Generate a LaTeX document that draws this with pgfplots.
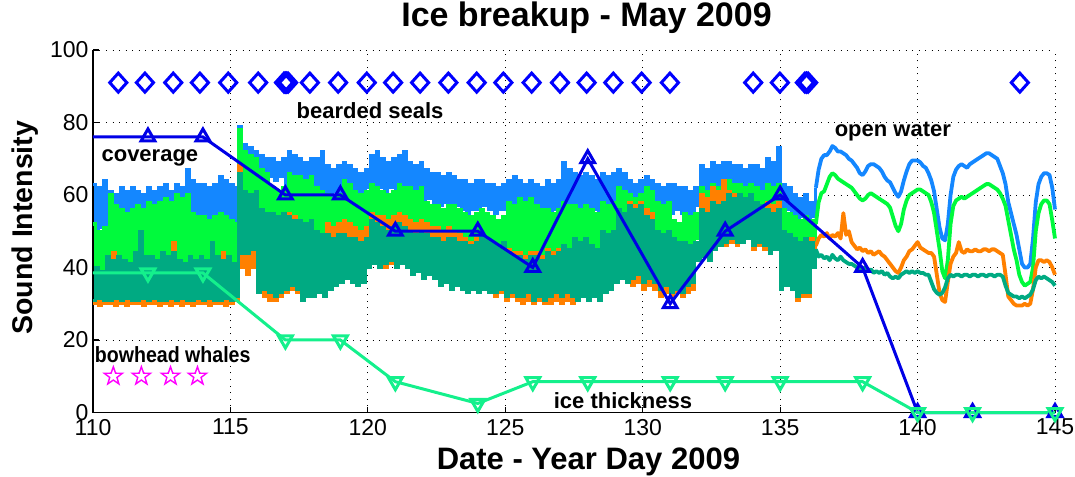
\documentclass[border=0pt]{standalone}
\usepackage{fontspec}
\setmainfont{Liberation Sans}
\usepackage{pgfplots}
\usepackage{pgfplotstable}
\pgfplotsset{compat=1.18}
\definecolor{cB}{RGB}{20,135,255}
\definecolor{cG}{RGB}{0,250,60}
\definecolor{cO}{RGB}{255,128,0}
\definecolor{cT}{RGB}{0,170,130}
\definecolor{cCov}{RGB}{0,0,230}
\definecolor{cThk}{RGB}{20,240,140}
\definecolor{cSeal}{RGB}{0,0,255}
\definecolor{cWhale}{RGB}{255,0,255}

\pgfdeclareplotmark{ostar}{%
 \pgfpathmoveto{\pgfpointpolar{90}{\pgfplotmarksize}}%
 \pgfpathlineto{\pgfpointpolar{126}{0.4\pgfplotmarksize}}%
 \pgfpathlineto{\pgfpointpolar{162}{\pgfplotmarksize}}%
 \pgfpathlineto{\pgfpointpolar{198}{0.4\pgfplotmarksize}}%
 \pgfpathlineto{\pgfpointpolar{234}{\pgfplotmarksize}}%
 \pgfpathlineto{\pgfpointpolar{270}{0.4\pgfplotmarksize}}%
 \pgfpathlineto{\pgfpointpolar{306}{\pgfplotmarksize}}%
 \pgfpathlineto{\pgfpointpolar{342}{0.4\pgfplotmarksize}}%
 \pgfpathlineto{\pgfpointpolar{18}{\pgfplotmarksize}}%
 \pgfpathlineto{\pgfpointpolar{54}{0.4\pgfplotmarksize}}%
 \pgfpathclose\pgfusepathqstroke}
\pgfdeclareplotmark{wdia}{%
 \pgfpathmoveto{\pgfqpoint{0pt}{\pgfplotmarksize}}%
 \pgfpathlineto{\pgfqpoint{0.9\pgfplotmarksize}{0pt}}%
 \pgfpathlineto{\pgfqpoint{0pt}{-\pgfplotmarksize}}%
 \pgfpathlineto{\pgfqpoint{-0.9\pgfplotmarksize}{0pt}}%
 \pgfpathclose\pgfusepathqstroke}

\pgfplotstableread{
x b g o t
110.0 63 52 30 31
110.1 50 38 37 40
110.2 62 50 29.5 31.5
110.3 51 39 36 39
110.4 64 51 30 31
110.5 49 38 38 43
110.6 61 60 30 31
110.7 48 37 44 42
110.8 60 57 29.5 31.5
110.9 52 38 37 43
111.0 62 56 30 31
111.1 52 38 38 42
111.2 61 55 29.5 31.5
111.3 53 39 40 41
111.4 62 56 30 31
111.5 52 37 37 44
111.6 61 57 30 31
111.7 53 38 46 50
111.8 60 56 29.5 31.5
111.9 52 37 38 43
112.0 62 58 30 31
112.1 53 38 39 43
112.2 61 57 30 31.5
112.3 54 39 38 42
112.4 62 58 29.5 31
112.5 52 38 40 44
112.6 63 59 30 31
112.7 53 39 41 43
112.8 61 58 29.5 31.5
112.9 52 38 47 44
113.0 63 60 30 31
113.1 53 38 38 42
113.2 62 59 29.5 31.5
113.3 54 39 39 41
113.4 67 60 30 31
113.5 53 37 42 43
113.6 64 55 29.5 31
113.7 52 38 38 42
113.8 63 54 30 31.5
113.9 54 37 37 43
114.0 63 54 30 31
114.1 52 37 39 42
114.2 62 53 29.5 31.5
114.3 53 38 40 47
114.4 63 54 30 31
114.5 53 37 38 43
114.6 65 55 30 31
114.7 54 38 44 42
114.8 64 54 29.5 31.5
114.9 53 37 39 43
115.0 63 53 30 31
115.1 53 38 38 41
115.2 62 52 31 32
115.3 79 78 68 66
115.4 63 46 40 44
115.5 74 72 58 61
115.6 66 50 38 44
115.7 73 71 57 60
115.8 67 51 40 45
115.9 72 70 56 61
116.0 65 45 33 33
116.1 71 67 55 56
116.2 64 46 32 34
116.3 70 66 54 55
116.4 65 45 31 33
116.5 70 62 52 55
116.6 64 42 31 32
116.7 69 61 51 54
116.8 65 43 32 33
116.9 70 62 52 55
117.0 62 45 33 34
117.1 72 66 55 54
117.2 63 46 34 35
117.3 71 65 54 53
117.4 62 45 33 34
117.5 70 65 52 53
117.6 60 44 31 31
117.7 69 64 51 52
117.8 61 45 32 32
117.9 70 65 52 53
118.0 60 45 32 32
118.1 70 62 50 50
118.2 61 46 33 33
118.3 72 61 49 49
118.4 60 45 32 32
118.5 68 60 52 49
118.6 60 44 35 34
118.7 67 59 51 48
118.8 61 45 36 35
118.9 68 60 52 49
119.0 60 46 38 36
119.1 69 64 53 49
119.2 61 47 39 37
119.3 68 63 52 48
119.4 60 46 38 36
119.5 67 61 51 48
119.6 59 45 37 35
119.7 66 60 50 47
119.8 60 46 38 36
119.9 67 61 51 48
120.0 62 47 41 40
120.1 71 63 55 53
120.2 63 48 42 41
120.3 72 62 54 52
120.4 62 47 41 40
120.5 70 61 54 51
120.6 61 46 40 41
120.7 69 60 53 50
120.8 62 47 41 42
120.9 70 61 54 51
121.0 60 47 40 40
121.1 71 63 55 52
121.2 61 48 41 41
121.3 72 62 54 51
121.4 60 47 40 40
121.5 69 62 53 50
121.6 60 46 38 38
121.7 68 61 52 49
121.8 61 47 39 39
121.9 69 62 53 50
122.0 58 44 37 37
122.1 67 58 52 49
122.2 59 45 38 38
122.3 66 57 51 48
122.4 58 44 37 37
122.5 66 57 51 48
122.6 57 43 35 35
122.7 65 56 50 47
122.8 58 44 36 36
122.9 66 57 51 48
123.0 56 43 34 34
123.1 65 57 50 48
123.2 57 44 35 35
123.3 64 56 49 47
123.4 56 43 34 34
123.5 64 55 48 47
123.6 55 42 33 33
123.7 63 54 47 46
123.8 56 43 34 34
123.9 64 55 48 47
124.0 56 43 33 33
124.1 64 56 48 49
124.2 57 44 34 34
124.3 63 55 47 48
124.4 56 43 33 33
124.5 63 54 46 47
124.6 55 42 32 33
124.7 62 53 45 46
124.8 56 43 33 34
124.9 63 54 46 47
125.0 56 42 31 32
125.1 64 58 45 44
125.2 57 43 32 33
125.3 65 57 44 43
125.4 56 42 31 32
125.5 64 59 44 43
125.6 55 41 30 32
125.7 63 58 43 42
125.8 56 42 31 33
125.9 64 59 44 43
126.0 54 40 30 31
126.1 63 57 44 43
126.2 55 41 31 32
126.3 62 56 43 42
126.4 54 40 30 31
126.5 64 56 45 44
126.6 55 40 30 32
126.7 63 55 44 43
126.8 56 41 31 33
126.9 64 56 45 44
127.0 56 41 30 32
127.1 69 58 46 46
127.2 57 42 31 33
127.3 67 57 45 45
127.4 56 41 30 32
127.5 66 57 46 48
127.6 55 42 31 31
127.7 65 56 45 47
127.8 56 43 32 32
127.9 66 57 46 48
128.0 55 42 31 31
128.1 65 56 46 46
128.2 56 43 32 32
128.3 64 55 45 45
128.4 55 42 31 31
128.5 66 58 50 50
128.6 56 44 33 33
128.7 65 57 49 49
128.8 57 45 34 34
128.9 66 58 50 50
129.0 57 46 36 36
129.1 67 62 56 56
129.2 58 47 37 37
129.3 66 61 55 55
129.4 57 46 36 36
129.5 64 60 58 57
129.6 56 45 35 37
129.7 63 59 57 56
129.8 57 46 36 38
129.9 64 60 58 57
130.0 56 45 34 36
130.1 65 62 56 54
130.2 57 46 35 37
130.3 64 61 55 53
130.4 56 45 34 36
130.5 63 58 50 50
130.6 55 44 32 34
130.7 62 57 49 49
130.8 56 45 33 35
130.9 63 58 50 50
131.0 55 42 32 33
131.1 63 53 48 48
131.2 56 43 33 34
131.3 62 52 47 47
131.4 55 42 32 33
131.5 62 55 46 47
131.6 54 43 33 35
131.7 61 54 45 46
131.8 55 44 34 36
131.9 62 55 46 47
132.0 57 48 42 42
132.1 68 62 60 56
132.2 58 49 43 43
132.3 67 61 59 55
132.4 57 48 42 42
132.5 69 63 62 58
132.6 58 50 45 45
132.7 68 62 61 57
132.8 59 51 46 46
132.9 69 63 64 58
133.0 60 52 46 47
133.1 69 64 61 60
133.2 61 53 47 48
133.3 68 63 60 59
133.4 60 52 46 47
133.5 68 63 60 60
133.6 60 52 47 47
133.7 67 62 59 59
133.8 61 53 48 48
133.9 68 63 60 60
134.0 59 50 45 46
134.1 68 62 58 58
134.2 60 51 46 47
134.3 67 61 57 57
134.4 59 50 45 46
134.5 70 63 58 56
134.6 60 50 44 44
134.7 69 62 57 55
134.8 61 51 45 45
134.9 73 63 58 56
135.0 55 45 34 34
135.1 63 56 50 50
135.2 56 46 35 35
135.3 62 55 49 49
135.4 55 45 34 34
135.5 60 54 48 48
135.6 53 43 31 32
135.7 59 53 47 47
135.8 54 44 32 33
135.9 60 54 48 48
136.0 52 42 32 33
136.1 58 53 48 47
136.2 54 45 40 40
136.3 62 52 46 45
136.4 67 58 48 43
136.5 70 60.5 49 43.5
136.6 71 61 48.5 42.5
136.7 71 63 49.5 43
136.8 72 65 48 42
136.9 73.5 66 49 43.5
137.0 73 65.5 48.5 42.5
137.1 72 64.5 49.5 42
137.2 72 64 48 43
137.3 71.5 63.5 55 42
137.4 71 63 49 41.5
137.5 70 62.5 50 41
137.6 69.5 62 47 41
137.7 68.5 61 46 40.5
137.8 67.5 60 45 40
137.9 66 59 45.5 39.5
138.0 65.5 58.5 44.5 39.5
138.1 66.5 59 45 40
138.2 68 60 44 39
138.3 68.5 60.5 44.5 39.5
138.4 68.5 60 43.5 38.5
138.5 68 59.5 44 39
138.6 67.5 59 44.5 38.5
138.7 66.5 58.5 43.5 39
138.8 65 58 43 38
138.9 64 57.5 42 38.5
139.0 63.5 56.5 41 37.5
139.1 62 54 40 37
139.2 60.5 51.5 39 37.5
139.3 59.5 50 38.5 37
139.4 61 52 40 38
139.5 64 56 42 38.5
139.6 66.5 58.5 43 39
139.7 68.5 60 44.5 38.5
139.8 69.5 60.5 45 39
139.9 69.5 61 46 38.5
140.0 69.5 61.5 47 39
140.1 69 61.5 45.5 38.5
140.2 68 61 45 38.5
140.3 67.5 60.5 44.5 38
140.4 66 60 44 38
140.5 64 58 44 36
140.6 61 55 43 34
140.7 56 50 38 33
140.8 51 45 33 32.5
140.9 48 39 31 33
141.0 47.5 37 30.5 34.5
141.1 52 42 36 37
141.2 60 52 41 38
141.3 65 57 43 37.5
141.4 67 58.5 44 38
141.5 68 59 47 38
141.6 68.5 59.5 44.5 37.5
141.7 68 59 44 38
141.8 67.5 59.5 45 38
141.9 68.5 60 44.5 37.5
142.0 69 60.5 44.5 38
142.1 69.5 61 45 38
142.2 70 61.5 44.5 37.5
142.3 70.5 62 44.5 38
142.4 71 62.5 45 38
142.5 71.5 63 45 37.5
142.6 71.5 63 44.5 38
142.7 71 62.5 45 38
142.8 70.5 62 45 37.5
142.9 70 61.5 44.5 38
143.0 68 60.5 44 38
143.1 66 59 43.5 37.5
143.2 63 57 38 35
143.3 58 53 32 33
143.4 55 49 31 32.5
143.5 52 45 30 32
143.6 49 42 29.5 32
143.7 45 38 29.5 31.5
143.8 41 36 29.5 32
143.9 40 35 30 31.5
144.0 40 35.5 29.5 32
144.1 41 36 30 32.5
144.2 48 40 34 34
144.3 58 50 40 36.5
144.4 63 55 42 37.5
144.5 65 57.5 42 37
144.6 66 58.5 41.5 37.5
144.7 66 58.5 42 37
144.8 65.5 57.5 41.5 36.5
144.9 62 53 40 36
145.0 56 48 38 35
}\noisy

\begin{document}
\begin{tikzpicture}
\useasboundingbox (-93pt,-63.5pt) rectangle (982pt,412.5pt);
\begin{axis}[
  at={(0pt,0pt)}, anchor=south west,
  scale only axis, width=962pt, height=362.5pt,
  xmin=110, xmax=145, ymin=0, ymax=100,
  xtick={110,115,...,145}, ytick={0,20,...,100},
  axis lines*=left,
  tick align=inside,
  major tick length=6pt,
  tick style={black, line width=1.2pt},
  axis line style={black, line width=1.3pt},
  grid=major,
  major grid style={black, line width=0.9pt, dash pattern=on 1pt off 5.5pt},
  clip=false,
  /pgf/number format/assume math mode=true,
  ticklabel style={font=\fontsize{23}{26}\selectfont},
  xticklabel style={yshift=-3pt},
  yticklabel style={xshift=-1pt},
]
% noisy sound series (stair-step traces)
\addplot[cB, const plot, line width=3.1pt, restrict x to domain=110:136.35] table[x=x,y=b] {\noisy};
\addplot[cB, line width=3.8pt, line join=round, restrict x to domain=136.25:145] table[x=x,y=b] {\noisy};
\addplot[cG, const plot, line width=3.1pt, restrict x to domain=110:136.35] table[x=x,y=g] {\noisy};
\addplot[cG, line width=3.8pt, line join=round, restrict x to domain=136.25:145] table[x=x,y=g] {\noisy};
\addplot[cO, const plot, line width=3.1pt, restrict x to domain=110:136.35] table[x=x,y=o] {\noisy};
\addplot[cO, line width=3.8pt, line join=round, restrict x to domain=136.25:145] table[x=x,y=o] {\noisy};
\addplot[cT, const plot, line width=3.1pt, restrict x to domain=110:136.35] table[x=x,y=t] {\noisy};
\addplot[cT, line width=3.8pt, line join=round, restrict x to domain=136.25:145] table[x=x,y=t] {\noisy};
% coverage
\addplot[cCov, line width=3pt, mark=triangle, mark size=8pt,
  mark indices={2,3,4,5,6,7,8,9,10,11,12,13,14,15,16}] coordinates {
  (110,76) (112,76) (114,76) (117,60) (119,60) (121,50) (124,50) (126,40)
  (128,70) (131,30) (133,50) (135,60) (138,40) (140,0) (142,0) (145,0)};
% ice thickness
\addplot[cThk, line width=3pt, mark=triangle, mark size=8pt, mark options={rotate=180},
  mark indices={2,3,4,5,6,7,8,9,10,11,12,13,14,15,16}] coordinates {
  (110,38.5) (112,38.5) (114,38.5) (117,20) (119,20) (121,8.5) (124,2.5) (126,8.5)
  (128,8.5) (131,8.5) (133,8.5) (135,8.5) (138,8.5) (140,0) (142,0) (145,0)};
% bearded seals
\addplot[only marks, cSeal, mark=wdia, mark size=9.5pt, line width=3pt] coordinates {
  (110.92,91) (111.89,91) (112.92,91) (113.89,91) (114.92,91) (116.01,91)
  (116.95,91) (117.0,91) (117.05,91) (117.1,91) (117.89,91) (118.92,91)
  (119.96,91) (120.92,91) (121.9,91) (122.93,91) (123.96,91) (124.93,91)
  (125.96,91) (126.99,91) (127.96,91) (128.93,91) (129.96,91) (130.99,91)
  (134.02,91) (134.99,91) (135.9,91) (135.96,91) (136.02,91) (143.72,91)};
% bowhead whales
\addplot[only marks, cWhale, mark=ostar, mark size=9.5pt, line width=1.4pt] coordinates {
  (110.74,10) (111.76,10) (112.82,10) (113.8,10)};
\node[font=\bfseries\fontsize{22}{26}\selectfont] at (axis cs:120.08,83.2) {bearded seals};
\node[font=\bfseries\fontsize{22}{26}\selectfont] at (axis cs:112.07,70.2) {coverage};
\node[font=\bfseries\fontsize{22}{26}\selectfont] at (axis cs:139.1,77.4) {open water};
\node[font=\bfseries\fontsize{22}{26}\selectfont, xscale=0.89] at (axis cs:112.9,16.1) {bowhead whales};
\node[font=\bfseries\fontsize{22}{26}\selectfont] at (axis cs:129.28,3.4) {ice thickness};
\node[font=\bfseries\fontsize{34}{38}\selectfont, anchor=center] at (axis description cs:0.513,1.088) {Ice breakup - May 2009};
\node[font=\bfseries\fontsize{28.5}{32}\selectfont, anchor=center, rotate=90] at (axis description cs:-0.0707,0.51) {Sound Intensity};
\node[font=\bfseries\fontsize{31}{34}\selectfont, anchor=center] at (axis description cs:0.515,-0.1366) {Date - Year Day 2009};
\end{axis}
\end{tikzpicture}
\end{document}
